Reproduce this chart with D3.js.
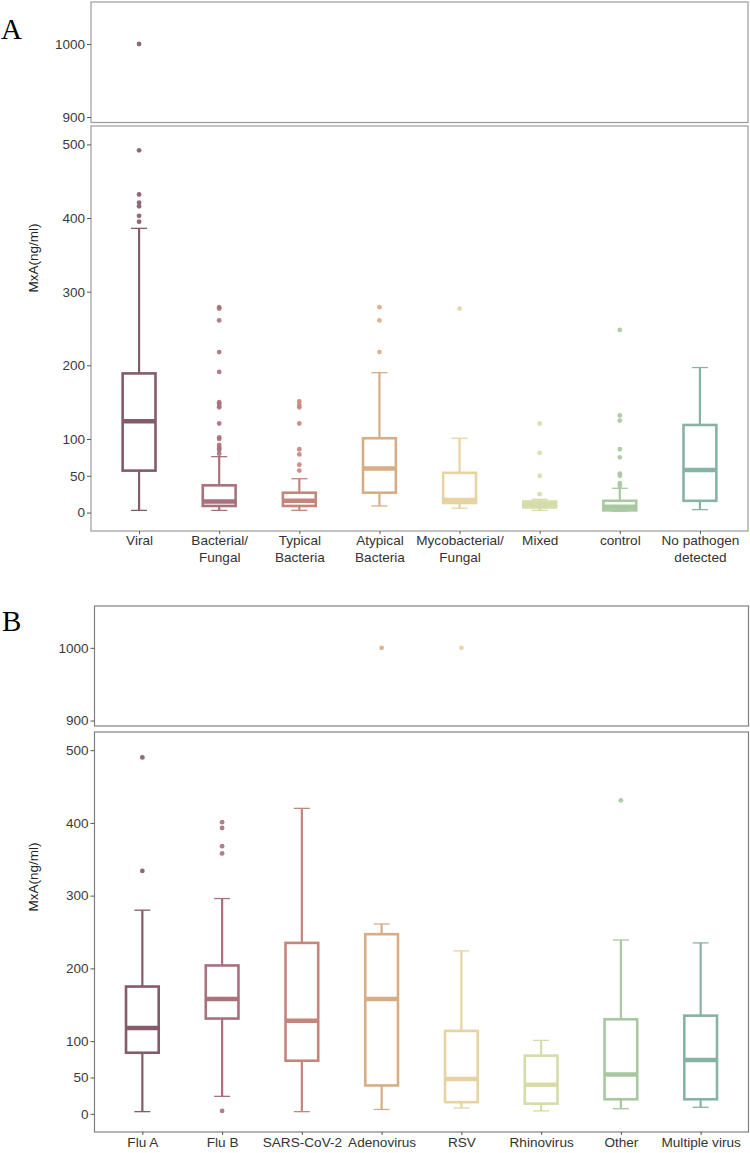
<!DOCTYPE html>
<html>
<head>
<meta charset="utf-8">
<script src="https://cdn.jsdelivr.net/npm/d3@7"></script>
<style>
    body { margin: 0; background: #fff; }
    svg text { font-family: "Liberation Sans", Arial, sans-serif; }
</style>
</head>
<body>
<div id="chart"></div>
<script>
// Panel A: pathogen groups
const categoriesA = ["Viral", "Bacterial/\nFungal", "Typical\nBacteria", "Atypical\nBacteria",
    "Mycobacterial/\nFungal", "Mixed", "control", "No pathogen\ndetected"];
const lowA = [3, 3, 3, 9, 6, 3, 2, 4];
const q1A = [57, 9, 9, 27, 13, 7, 3, 16];
const medA = [124, 15, 16, 60, 17, 11, 8, 58];
const q3A = [189, 37, 27, 101, 54, 15, 16, 119];
const highA = [386, 76, 46, 190, 101, 18, 33, 197];
const outliersA = [
    [1000, 492, 432, 421, 416, 403, 395],
    [279, 277, 261, 218, 191, 150, 148, 145, 143, 121, 102, 100, 92, 89, 87, 85, 80],
    [151, 146, 143, 121, 86, 79, 65, 57],
    [279, 261, 218],
    [277],
    [121, 81, 50, 25],
    [248, 132, 125, 86, 75, 53, 50, 40, 36],
    []
];

// Panel B: virus types
const categoriesB = ["Flu A", "Flu B", "SARS-CoV-2", "Adenovirus", "RSV", "Rhinovirus", "Other", "Multiple virus"];
const lowB = [3, 24, 3, 6, 8, 4, 7, 9];
const q1B = [84, 131, 73, 39, 16, 14, 20, 20];
const medB = [118, 158, 128, 158, 48, 40, 54, 74];
const q3B = [175, 204, 235, 247, 114, 80, 130, 135];
const highB = [280, 296, 420, 261, 224, 101, 239, 235];
const outliersB = [
    [490, 334],
    [401, 393, 368, 358, 4],
    [],
    [1000],
    [1000],
    [],
    [431],
    []
];

const palette = ["#835b6a", "#a8717b", "#c4857b", "#d6ad86", "#e7d3a1", "#d5dca7", "#a9c7a1", "#88b3a4"];
const yTicksTop = [900, 1000];
const yTicksLow = [0, 50, 100, 200, 300, 400, 500];
const domainTop = [892.5, 1057.5];
const domainLow = [-25, 525];

const svg = d3.select("#chart").append("svg")
    .attr("width", 750)
    .attr("height", 1153);

function drawPanel(cfg) {
    const g = svg.append("g");
    const n = cfg.cats.length;

    const x = d3.scalePoint()
        .domain(d3.range(n))
        .range([cfg.left, cfg.right])
        .padding(0.6);
    const step = x.step();
    const boxW = step * 0.41;
    const capW = step * 0.2;

    const yTop = d3.scaleLinear().domain(domainTop).range([cfg.top[1], cfg.top[0]]);
    const yLow = d3.scaleLinear().domain(domainLow).range([cfg.low[1], cfg.low[0]]);

    // panel frames
    [cfg.top, cfg.low].forEach(r => {
        g.append("rect")
            .attr("x", cfg.left)
            .attr("y", r[0])
            .attr("width", cfg.right - cfg.left)
            .attr("height", r[1] - r[0])
            .attr("fill", "none")
            .attr("stroke", cfg.frame)
            .attr("stroke-width", 1.2);
    });

    // y axes
    const fmt = d3.format("d");
    const axTop = g.append("g")
        .attr("transform", "translate(" + cfg.left + ",0)")
        .call(d3.axisLeft(yTop).tickValues(yTicksTop).tickFormat(fmt).tickSize(4).tickPadding(2));
    const axLow = g.append("g")
        .attr("transform", "translate(" + cfg.left + ",0)")
        .call(d3.axisLeft(yLow).tickValues(yTicksLow).tickFormat(fmt).tickSize(4).tickPadding(2));
    [axTop, axLow].forEach(a => {
        a.select(".domain").remove();
        a.selectAll(".tick line").attr("stroke", "#555");
        a.selectAll(".tick text").attr("fill", "#3a3a3a").style("font-size", "13.5px");
    });

    // x axis (lower panel only)
    const axX = g.append("g")
        .attr("transform", "translate(0," + cfg.low[1] + ")")
        .call(d3.axisBottom(x).tickSize(3).tickPadding(cfg.labelPad).tickFormat(i => cfg.cats[i]));
    axX.select(".domain").remove();
    axX.selectAll(".tick line").attr("stroke", "#555");
    axX.selectAll(".tick text")
        .attr("fill", "#333")
        .style("font-size", "13.6px")
        .each(function (i) {
            const t = d3.select(this);
            const lines = cfg.cats[i].split("\n");
            t.text(null);
            lines.forEach((s, k) => {
                t.append("tspan")
                    .attr("x", 0)
                    .attr("dy", k === 0 ? "0.71em" : "1.27em")
                    .text(s);
            });
        });
    axX.selectAll(".tick text").attr("dy", null);

    // y title
    g.append("text")
        .attr("transform", "translate(" + cfg.titleX + "," + cfg.titleY + ") rotate(-90)")
        .attr("text-anchor", "middle")
        .attr("fill", "#222")
        .style("font-size", "13.5px")
        .text("MxA(ng/ml)");

    // panel letter
    svg.append("text")
        .attr("x", cfg.letterX)
        .attr("y", cfg.letterY)
        .style("font-family", "'Liberation Serif', 'Times New Roman', serif")
        .style("font-size", "29px")
        .attr("fill", "#000")
        .text(cfg.letter);

    // boxes
    const rows = d3.range(n).map(i => ({
        i: i, low: cfg.low_[i], q1: cfg.q1[i], med: cfg.med[i], q3: cfg.q3[i], high: cfg.high[i],
        out: cfg.out[i], color: palette[i]
    }));

    const box = g.selectAll(".box")
        .data(rows)
        .enter().append("g")
        .attr("class", "box");

    // whisker line (errorbar)
    box.append("line")
        .attr("x1", d => x(d.i)).attr("x2", d => x(d.i))
        .attr("y1", d => yLow(d.low)).attr("y2", d => yLow(d.high))
        .attr("stroke", d => d.color)
        .attr("stroke-width", 2.2);
    // caps
    ["low", "high"].forEach(k => {
        box.append("line")
            .attr("x1", d => x(d.i) - capW / 2).attr("x2", d => x(d.i) + capW / 2)
            .attr("y1", d => yLow(d[k])).attr("y2", d => yLow(d[k]))
            .attr("stroke", d => d.color)
            .attr("stroke-width", 1.3);
    });
    // box
    box.append("rect")
        .attr("x", d => x(d.i) - boxW / 2)
        .attr("width", boxW)
        .attr("y", d => yLow(d.q3))
        .attr("height", d => yLow(d.q1) - yLow(d.q3))
        .attr("fill", "#fff")
        .attr("stroke", d => d.color)
        .attr("stroke-width", 2.6);
    // median
    box.append("line")
        .attr("x1", d => x(d.i) - boxW / 2).attr("x2", d => x(d.i) + boxW / 2)
        .attr("y1", d => yLow(d.med)).attr("y2", d => yLow(d.med))
        .attr("stroke", d => d.color)
        .attr("stroke-width", 4.5);

    // outliers
    box.selectAll(".pt")
        .data(d => d.out.map(v => ({ v: v, i: d.i, color: d.color })))
        .enter().append("circle")
        .attr("class", "pt")
        .attr("cx", d => x(d.i))
        .attr("cy", d => d.v > domainLow[1] ? yTop(d.v) : yLow(d.v))
        .attr("r", 2.4)
        .attr("fill", d => d.color)
        .attr("opacity", 0.9);
}

drawPanel({
    cats: categoriesA, low_: lowA, q1: q1A, med: medA, q3: q3A, high: highA, out: outliersA,
    left: 91, right: 748, top: [2, 122.5], low: [126, 531],
    frame: "#9c9c9c", labelPad: 1, titleX: 38, titleY: 258,
    letter: "A", letterX: 1, letterY: 39
});

drawPanel({
    cats: categoriesB, low_: lowB, q1: q1B, med: medB, q3: q3B, high: highB, out: outliersB,
    left: 94.5, right: 748.5, top: [606, 726], low: [732, 1132],
    frame: "#808080", labelPad: 2.5, titleX: 38, titleY: 877,
    letter: "B", letterX: 2, letterY: 631
});
</script>
</body>
</html>
